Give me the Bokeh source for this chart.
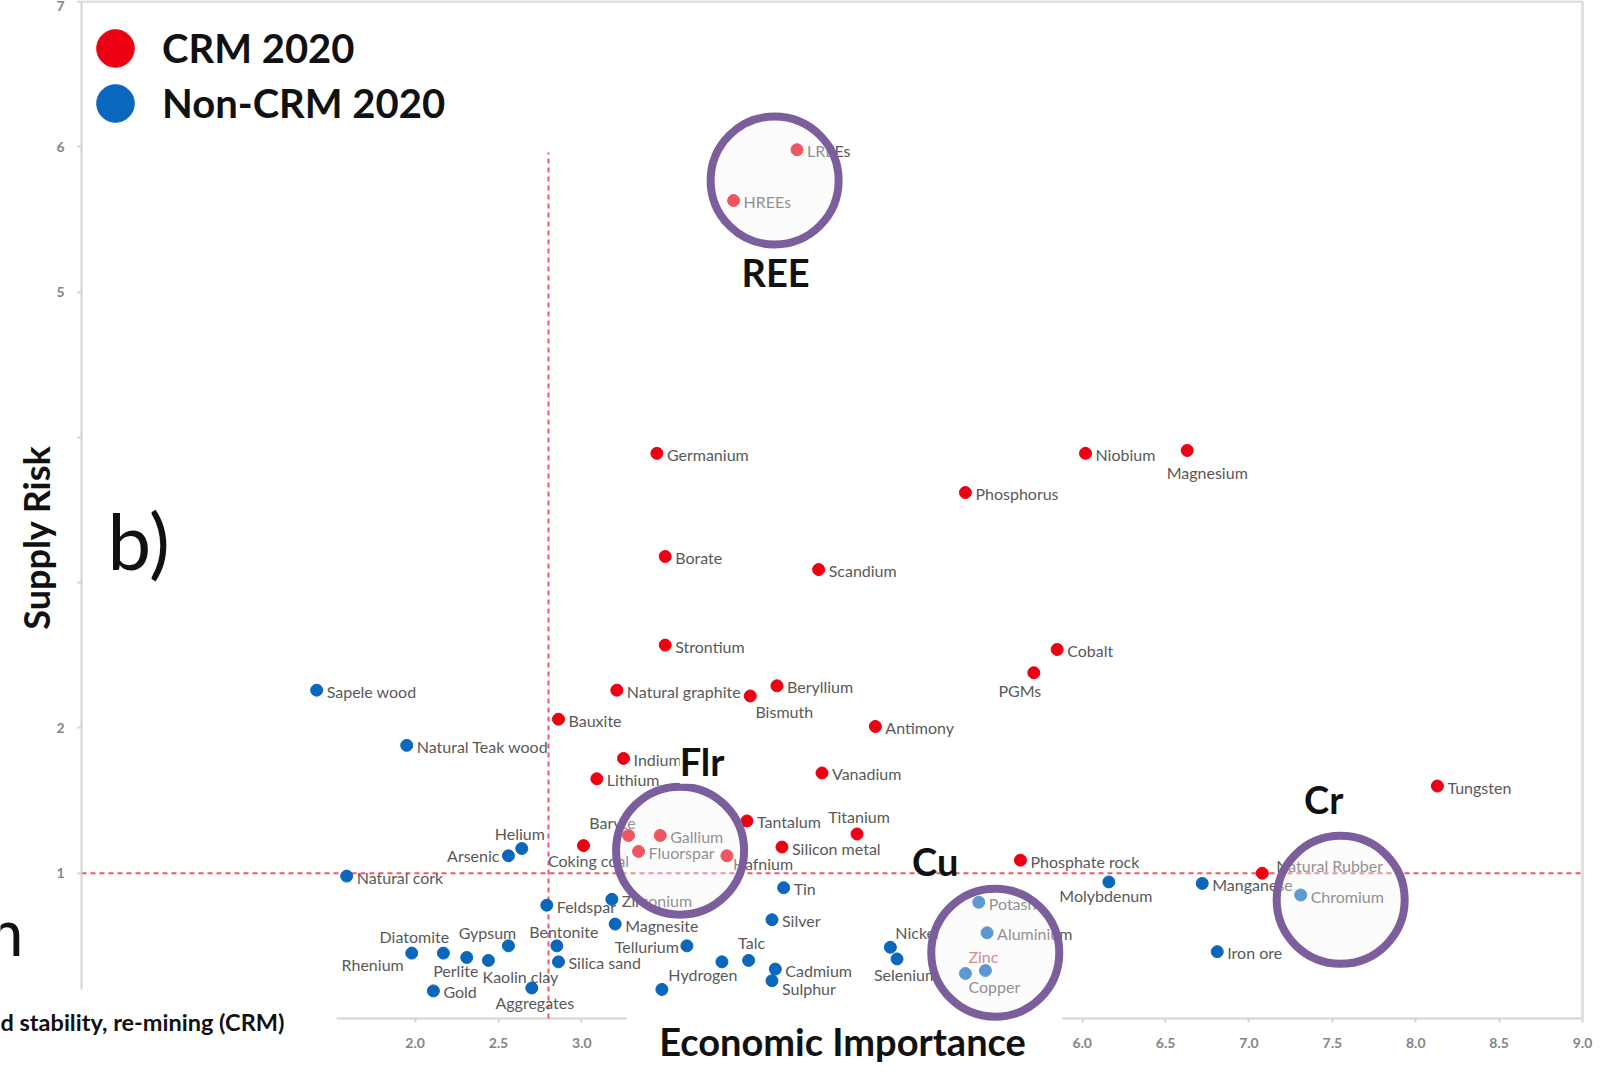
import math

from bokeh.core.properties import value
from bokeh.embed import file_html
from bokeh.models import (ColumnDataSource, FixedTicker, Label, Legend, LegendItem,
                          NumeralTickFormatter, Range1d)
from bokeh.plotting import figure
from bokeh.resources import INLINE

# ---------------------------------------------------------------------------
# EU critical raw materials assessment 2020: economic importance vs supply risk
# ---------------------------------------------------------------------------
CRM_NAMES = [
    "LREEs", "HREEs", "Germanium", "Niobium", "Magnesium", "Phosphorus", "Borate",
    "Scandium", "Strontium", "Cobalt", "PGMs", "Natural graphite", "Bismuth",
    "Beryllium", "Bauxite", "Antimony", "Indium", "Lithium", "Vanadium", "Tungsten",
    "Tantalum", "Titanium", "Baryte", "Gallium", "Coking coal", "Fluorspar",
    "Hafnium", "Silicon metal", "Phosphate rock", "Natural Rubber",
]
CRM_EI = [
    4.29, 3.91, 3.45, 6.02, 6.63, 5.30, 3.50,
    4.42, 3.50, 5.85, 5.71, 3.21, 4.01,
    4.17, 2.86, 4.76, 3.25, 3.09, 4.44, 8.13,
    3.99, 4.65, 3.28, 3.47, 3.01, 3.34,
    3.87, 4.20, 5.63, 7.08,
]
CRM_SR = [
    5.98, 5.63, 3.89, 3.89, 3.91, 3.62, 3.18,
    3.09, 2.57, 2.54, 2.38, 2.26, 2.22,
    2.29, 2.06, 2.01, 1.79, 1.65, 1.69, 1.60,
    1.36, 1.27, 1.26, 1.26, 1.19, 1.15,
    1.12, 1.18, 1.09, 1.00,
]

NONCRM_NAMES = [
    "Sapele wood", "Natural Teak wood", "Helium", "Arsenic", "Natural cork",
    "Feldspar", "Zirconium", "Magnesite", "Tellurium", "Rhenium", "Diatomite",
    "Perlite", "Kaolin clay", "Gypsum", "Bentonite", "Silica sand", "Gold",
    "Aggregates", "", "Hydrogen", "Talc", "Cadmium", "Sulphur", "Silver", "Tin",
    "Nickel", "Selenium", "Potash", "Aluminium", "Zinc", "Copper", "Molybdenum",
    "Manganese", "Chromium", "Iron ore",
]
NONCRM_EI = [
    1.41, 1.95, 2.64, 2.56, 1.59,
    2.79, 3.18, 3.20, 3.63, 1.98, 2.17,
    2.31, 2.44, 2.56, 2.85, 2.86, 2.11,
    2.70, 3.48, 3.84, 4.00, 4.16, 4.14, 4.14, 4.21,
    4.85, 4.89, 5.38, 5.43, 5.42, 5.30, 6.16,
    6.72, 7.31, 6.81,
]
NONCRM_SR = [
    2.26, 1.88, 1.17, 1.12, 0.98,
    0.78, 0.82, 0.65, 0.50, 0.45, 0.45,
    0.42, 0.40, 0.50, 0.50, 0.39, 0.19,
    0.21, 0.20, 0.39, 0.40, 0.34, 0.26, 0.68, 0.90,
    0.49, 0.41, 0.80, 0.59, 0.33, 0.31, 0.94,
    0.93, 0.85, 0.46,
]

# highlighted material groups
HIGHLIGHT_NAMES = ["REE", "Flr", "Cu", "Cr"]
HIGHLIGHT_EI = [4.156, 3.589, 5.479, 7.550]
HIGHLIGHT_SR = [5.768, 1.155, 0.453, 0.817]

# criticality thresholds
EI_THRESHOLD = 2.8
SR_THRESHOLD = 1.0

X_TICKS = [2.0, 2.5, 3.0, 6.0, 6.5, 7.0, 7.5, 8.0, 8.5, 9.0]
Y_TICKS = [1, 2, 3, 4, 5, 6, 7]
Y_TICKS_HIDDEN = [3, 4]

# ---------------------------------------------------------------------------
# styling and geometry
# ---------------------------------------------------------------------------
RED = "#ec0012"
BLUE = "#0b67bb"
LABEL_GREY = "#595959"
RING = "#7d5e9c"
AXIS_GREY = "#d3d3d3"
FONT = "Lato"

W, H = 1601, 1081
# pixel box spanned by the value axes (x: 0..9, y: 0..7)
AX_LEFT, AX_RIGHT, AX_TOP, AX_BOTTOM = 81, 1582, 1, 1018
X_MAX, Y_MAX = 9.0, 7.0
XU = (AX_RIGHT - AX_LEFT) / X_MAX
YU = (AX_BOTTOM - AX_TOP) / Y_MAX
# drawn extent of the x baseline, with an opening under its title
X_LINE_START, X_LINE_GAP = 1.53, (3.27, 5.88)


def sx(px):
    """canvas x pixel -> screen x"""
    return px


def sy(py):
    """canvas y pixel (down) -> screen y (up)"""
    return H - py


# label placement per material: (align, dx, dy) in pixels, dy positive downwards
DEFAULT_SPOT = ("left", 10, 1)
LABEL_SPOT = {
    "Magnesium": ("center", 20, 22),
    "PGMs": ("center", -14, 18),
    "Bismuth": ("center", 34, 16),
    "Titanium": ("center", 2, -17),
    "Baryte": ("center", -16, -13),
    "Coking coal": ("center", 5, 15),
    "Hafnium": ("left", 6, 8),
    "Natural Rubber": ("left", 14, -8),
    "Helium": ("center", -2, -15),
    "Arsenic": ("right", -9, 0),
    "Tellurium": ("right", -8, 1),
    "Rhenium": ("right", -8, 11),
    "Diatomite": ("center", -29, -17),
    "Perlite": ("center", -11, 13),
    "Kaolin clay": ("center", 32, 16),
    "Gypsum": ("center", -21, -13),
    "Bentonite": ("center", 7, -14),
    "Aggregates": ("center", 3, 15),
    "Hydrogen": ("center", -19, 13),
    "Talc": ("center", 3, -18),
    "Sulphur": ("left", 10, 8),
    "Nickel": ("left", 5, -15),
    "Selenium": ("center", 9, 16),
    "Zinc": ("center", -2, -14),
    "Copper": ("center", 29, 13),
    "Molybdenum": ("center", -3, 14),
}
LABEL_COLOR = {"Zinc": "#c0504d"}

# group name offsets from ring centre, pixels (dy positive downwards)
HIGHLIGHT_TEXT_SPOT = {"REE": (1, 92), "Flr": (22, -90), "Cu": (-60, -92), "Cr": (-17, -101)}

# ---------------------------------------------------------------------------
x_range = Range1d(-AX_LEFT / XU, (W - AX_LEFT) / XU)
y_range = Range1d(-(H - AX_BOTTOM) / YU, AX_BOTTOM / YU)

p = figure(
    width=W, height=H, x_range=x_range, y_range=y_range,
    output_backend="svg", toolbar_location=None, title=None, min_border=0,
)
p.background_fill_color = "white"
p.border_fill_color = "white"
p.outline_line_color = None
p.xgrid.visible = False
p.ygrid.visible = False

for ax in (p.xaxis[0], p.yaxis[0]):
    ax.fixed_location = 0
    ax.axis_line_color = AXIS_GREY
    ax.axis_line_width = 2
    ax.major_tick_line_color = AXIS_GREY
    ax.major_tick_line_width = 2
    ax.major_tick_out = 4
    ax.major_tick_in = 0
    ax.minor_tick_line_color = None
    ax.major_label_standoff = 13
    ax.major_label_text_font = FONT
    ax.major_label_text_font_style = "bold"
    ax.major_label_text_font_size = "14px"
    ax.major_label_text_color = "#858585"

p.xaxis.ticker = FixedTicker(ticks=X_TICKS)
p.xaxis.formatter = NumeralTickFormatter(format="0.0")
p.xaxis.bounds = (X_LINE_START, X_MAX)
p.xaxis.axis_line_color = None
p.xaxis.major_label_standoff = 15
p.yaxis.ticker = FixedTicker(ticks=Y_TICKS)
p.yaxis.major_label_overrides = {t: "" for t in Y_TICKS_HIDDEN}
p.yaxis.bounds = (0.2, Y_MAX)

# x baseline in two pieces, leaving room for the axis title
p.segment(x0=[X_LINE_START, X_LINE_GAP[1]], y0=[0, 0],
          x1=[X_LINE_GAP[0], X_MAX], y1=[0, 0], line_color=AXIS_GREY, line_width=2)

# threshold lines
p.segment(x0=[0], y0=[SR_THRESHOLD], x1=[X_MAX], y1=[SR_THRESHOLD],
          line_color="#f03a4a", line_width=2, line_dash="5 4", line_alpha=0.85)
p.segment(x0=[EI_THRESHOLD], y0=[0], x1=[EI_THRESHOLD], y1=[5.96],
          line_color="#f03a4a", line_width=2, line_dash="5 4", line_alpha=0.85)

# chart border, top and right
p.segment(x0=[0, X_MAX], y0=[Y_MAX, 0], x1=[X_MAX, X_MAX], y1=[Y_MAX, Y_MAX],
          line_color="#e0e0e0", line_width=3)

# materials
crm_r = p.scatter(CRM_EI, CRM_SR, size=12, marker="circle",
                  fill_color=RED, line_color=RED)
non_r = p.scatter(NONCRM_EI, NONCRM_SR, size=12, marker="circle",
                  fill_color=BLUE, line_color=BLUE)

# material labels
groups = {"left": [], "center": [], "right": []}
for names, xs, ys in ((CRM_NAMES, CRM_EI, CRM_SR), (NONCRM_NAMES, NONCRM_EI, NONCRM_SR)):
    for n, x, y in zip(names, xs, ys):
        if not n:
            continue
        align, dx, dy = LABEL_SPOT.get(n, DEFAULT_SPOT)
        groups[align].append((n, x, y, dx, dy, LABEL_COLOR.get(n, LABEL_GREY)))

for align, rows in groups.items():
    if not rows:
        continue
    src = ColumnDataSource(dict(
        text=[r[0] for r in rows], x=[r[1] for r in rows], y=[r[2] for r in rows],
        dx=[r[3] for r in rows], dy=[r[4] for r in rows], color=[r[5] for r in rows],
    ))
    p.text(x="x", y="y", text="text", x_offset="dx", y_offset="dy", source=src,
           text_align=align, text_baseline="middle", text_color="color",
           text_font=value(FONT), text_font_size="16px")

# highlight rings drawn over the points with a translucent fill
p.scatter(HIGHLIGHT_EI, HIGHLIGHT_SR, size=128, marker="circle",
          fill_color="#f7f5f9", fill_alpha=0.35, line_color=RING, line_width=8)

for name, x, y in zip(HIGHLIGHT_NAMES, HIGHLIGHT_EI, HIGHLIGHT_SR):
    dx, dy = HIGHLIGHT_TEXT_SPOT[name]
    extra = dict(background_fill_color="white") if name == "Flr" else {}
    p.text(x=[x], y=[y], text=[name], x_offset=dx, y_offset=dy,
           text_align="center", text_baseline="middle", text_color="#111111",
           text_font=value(FONT), text_font_style="bold", text_font_size="38px", **extra)

# legend, one block per series so the rows sit tightly
legend_style = dict(
    orientation="vertical", glyph_width=94, glyph_height=100, spacing=0,
    padding=0, margin=0, label_standoff=0, label_text_font=FONT,
    label_text_font_style="bold", label_text_font_size="40px",
    label_text_color="#111111", border_line_color=None, background_fill_alpha=0,
)
p.add_layout(Legend(items=[LegendItem(label="CRM 2020", renderers=[crm_r])],
                    location=(sx(68), sy(98)), **legend_style))
p.add_layout(Legend(items=[LegendItem(label="Non-CRM 2020", renderers=[non_r])],
                    location=(sx(68), sy(153)), **legend_style))

# axis titles and panel text (anchored on their vertical centre)
text_common = dict(x_units="screen", y_units="screen", text_baseline="middle",
                   text_font=FONT, text_color="#111111")
p.add_layout(Label(x=sx(35), y=sy(537), text="Supply Risk", angle=math.pi / 2,
                   text_align="center", text_font_style="bold",
                   text_font_size="36px", **text_common))
p.add_layout(Label(x=sx(842), y=sy(1040), text="Economic Importance",
                   text_align="center", text_font_style="bold", text_font_size="38px",
                   **text_common))
p.add_layout(Label(x=sx(107), y=sy(539), text="b)", text_align="left",
                   text_font_size="78px", **text_common))
p.add_layout(Label(x=sx(23), y=sy(930), text="m", text_align="right",
                   text_font_size="65px", **text_common))
p.add_layout(Label(x=sx(0), y=sy(1021), text="d  stability, re-mining (CRM)",
                   text_align="left", text_font_style="bold", text_font_size="23.5px",
                   **text_common))

open("out.html", "w").write(file_html(p, INLINE))
